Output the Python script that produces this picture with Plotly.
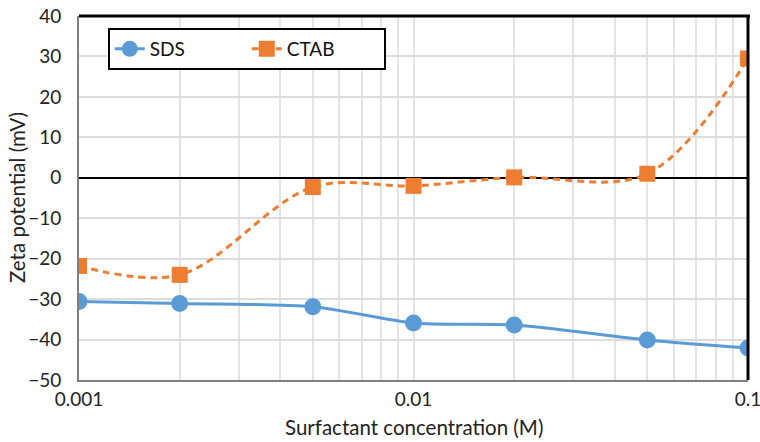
import plotly.graph_objects as go

# Surfactant concentration (M) and measured zeta potentials (mV)
concentration = [0.001, 0.002, 0.005, 0.01, 0.02, 0.05, 0.1]
sds_zeta = [-30.6, -31.1, -31.9, -35.9, -36.4, -40.1, -42.1]
ctab_zeta = [-21.8, -24.0, -2.3, -2.0, 0.1, 1.0, 29.5]

y_ticks = [-50, -40, -30, -20, -10, 0, 10, 20, 30, 40]

# decade labels plus unlabeled minor grid positions on the log axis
x_gridvals = []
x_gridtext = []
for decade in [0.001, 0.01]:
    for m in range(1, 10):
        x_gridvals.append(round(decade * m, 6))
        x_gridtext.append(f"{decade:g}" if m == 1 else "")
x_gridvals.append(0.1)
x_gridtext.append("0.1")

FONT = "Lato, Carlito, Calibri, sans-serif"

fig = go.Figure()
fig.add_trace(go.Scatter(
    x=concentration, y=sds_zeta, name="SDS",
    mode="lines+markers",
    line=dict(color="#5B9BD5", width=3, shape="spline", smoothing=0.8),
    marker=dict(symbol="circle", size=17, color="#5B9BD5"),
))
fig.add_trace(go.Scatter(
    x=concentration, y=ctab_zeta, name="CTAB",
    mode="lines+markers",
    line=dict(color="#ED7D31", width=3, dash="7px,5px", shape="spline", smoothing=1.0),
    marker=dict(symbol="square", size=16, color="#ED7D31"),
))

fig.update_layout(
    width=760, height=442,
    margin=dict(l=79, r=12, t=16, b=62, autoexpand=False),
    paper_bgcolor="white", plot_bgcolor="white",
    font=dict(family=FONT, size=19, color="#222222"),
    showlegend=True,
    legend=dict(
        orientation="h", x=0.043, y=0.967, xanchor="left", yanchor="top",
        bgcolor="white", bordercolor="black", borderwidth=2,
        font=dict(family=FONT, size=19, color="#111111"),
        entrywidth=92, tracegroupgap=0,
    ),
    xaxis=dict(
        type="log", range=[-3, -1], automargin=False,
        tickmode="array", tickvals=x_gridvals, ticktext=x_gridtext,
        showgrid=True, gridcolor="#E3E3E3", gridwidth=1.5,
        showline=True, linecolor="#7F7F7F", linewidth=2,
        ticks="", ticklabelstandoff=1, ticklabeloverflow="allow",
        zeroline=False,
    ),
    yaxis=dict(
        range=[-50, 40], automargin=False, tickmode="array", tickvals=y_ticks,
        showgrid=True, gridcolor="#DDDDDD", gridwidth=1.5,
        showline=True, linecolor="#7F7F7F", linewidth=2,
        ticks="", ticklabelstandoff=12, zeroline=True,
        zerolinecolor="black", zerolinewidth=1.5,
    ),
    shapes=[
        dict(type="line", xref="paper", yref="paper", x0=0, x1=1.003, y0=1, y1=1,
             line=dict(color="black", width=3)),
        dict(type="line", xref="paper", yref="paper", x0=1, x1=1, y0=0, y1=1,
             line=dict(color="black", width=3)),
    ],
    annotations=[
        dict(text="Surfactant concentration (M)", xref="paper", yref="paper",
             x=0.5, y=0, yshift=-47, xanchor="center", yanchor="middle",
             showarrow=False, font=dict(family=FONT, size=20.5, color="#222222")),
        dict(text="Zeta potential (mV)", xref="paper", yref="paper",
             x=0, y=0.5, xshift=-62, xanchor="center", yanchor="middle",
             textangle=-90, showarrow=False,
             font=dict(family=FONT, size=20.5, color="#222222")),
    ],
)

fig.write_html("out.html")
